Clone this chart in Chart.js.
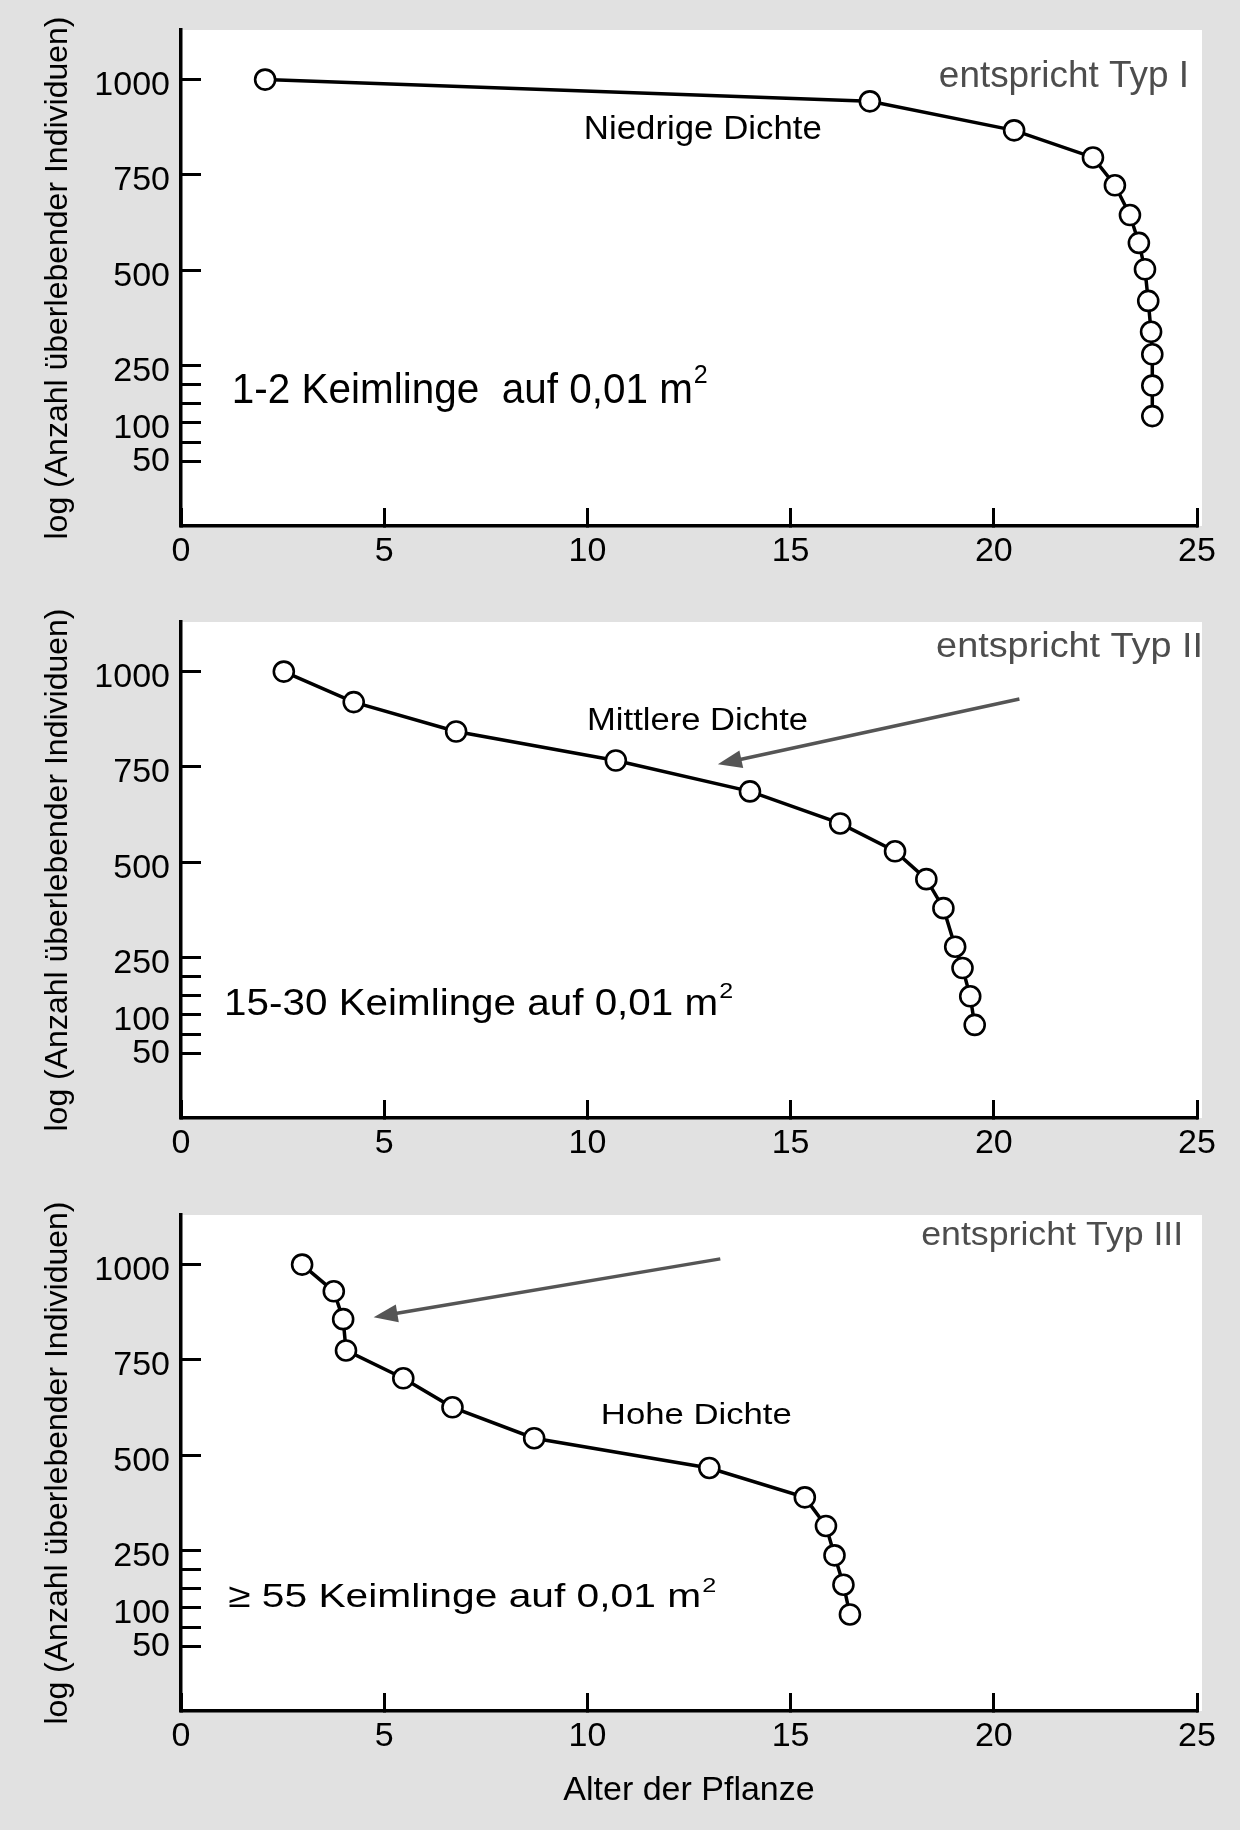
<!DOCTYPE html>
<html>
<head>
<meta charset="utf-8">
<script src="https://cdn.jsdelivr.net/npm/chart.js@4.4.1/dist/chart.umd.min.js"></script>
<style>
  html, body { margin: 0; padding: 0; background: #e1e1e1; }
  #wrap { position: relative; width: 1240px; height: 1830px; overflow: hidden; }
  canvas { position: absolute; left: 0; }
</style>
</head>
<body>
<div id="wrap">
  <canvas id="c1" width="1240" height="592" style="top:0px;width:1240px;height:592px"></canvas>
  <canvas id="c2" width="1240" height="592" style="top:592px;width:1240px;height:592px"></canvas>
  <canvas id="c3" width="1240" height="645" style="top:1185px;width:1240px;height:645px"></canvas>
</div>
<script>
// Alter der Pflanze (x) und Anzahl ueberlebender Individuen (y)
const ageI    = [2.07, 16.95, 20.5, 22.44, 22.98, 23.35, 23.57, 23.72, 23.8, 23.87, 23.9, 23.9, 23.9];
const survI   = [1000, 943, 867, 796, 723, 645, 572, 503, 420, 339, 280, 198, 118];
const ageII   = [2.53, 4.25, 6.77, 10.7, 14.0, 16.22, 17.57, 18.34, 18.76, 19.05, 19.23, 19.42, 19.53];
const survII  = [1000, 920, 843, 767, 686, 602, 529, 456, 380, 279, 223, 149, 74];
const ageIII  = [2.98, 3.76, 3.99, 4.06, 5.47, 6.68, 8.69, 13.0, 15.35, 15.87, 16.08, 16.3, 16.46];
const survIII = [1000, 930, 857, 775, 702, 626, 545, 467, 390, 315, 238, 161, 83];

const xTicks = [0, 5, 10, 15, 20, 25];
// Teilstriche der Achse; "50" steht in der Vorlage knapp ueber dem untersten Strich
const yTicks = [0, 15, 50, 100, 150, 200, 250, 500, 750, 1000];
const yLabels = {1000: '1000', 750: '750', 500: '500', 250: '250', 100: '100', 15: '50'};
const yHiddenTicks = [15];

const FONT = "'Liberation Sans', Arial, Helvetica, sans-serif";
const GRAY = '#4d4d4d';

// weisse Zeichenflaeche, Pfeile und Beschriftungen
const annotate = {
  id: 'annotate',
  beforeDraw(chart) {
    const {ctx, chartArea: a} = chart;
    ctx.save();
    ctx.fillStyle = '#fff';
    ctx.fillRect(a.left, a.top, a.right - a.left + 5, a.bottom - a.top);
    ctx.restore();
  },
  afterDatasetsDraw(chart, args, opts) {
    const {ctx} = chart;
    const sx = chart.scales.x, sy = chart.scales.y;
    ctx.save();
    (opts.arrows || []).forEach(ar => {
      const x1 = sx.getPixelForValue(ar.from[0]), y1 = sy.getPixelForValue(ar.from[1]);
      const x2 = sx.getPixelForValue(ar.to[0]), y2 = sy.getPixelForValue(ar.to[1]);
      const ang = Math.atan2(y2 - y1, x2 - x1);
      const head = 24, half = 9;
      ctx.strokeStyle = '#555';
      ctx.fillStyle = '#555';
      ctx.lineWidth = 3.5;
      ctx.beginPath();
      ctx.moveTo(x1, y1);
      ctx.lineTo(x2 - Math.cos(ang) * head * 0.8, y2 - Math.sin(ang) * head * 0.8);
      ctx.stroke();
      ctx.beginPath();
      ctx.moveTo(x2, y2);
      ctx.lineTo(x2 - Math.cos(ang) * head - Math.sin(ang) * half, y2 - Math.sin(ang) * head + Math.cos(ang) * half);
      ctx.lineTo(x2 - Math.cos(ang) * head + Math.sin(ang) * half, y2 - Math.sin(ang) * head - Math.cos(ang) * half);
      ctx.closePath();
      ctx.fill();
    });
    (opts.labels || []).forEach(t => {
      const px = sx.getPixelForValue(t.x), py = sy.getPixelForValue(t.y);
      const supSize = t.size * 0.62;
      ctx.font = t.size + 'px ' + FONT;
      let w = ctx.measureText(t.text).width;
      let wSup = 0;
      if (t.sup) {
        ctx.font = supSize + 'px ' + FONT;
        wSup = ctx.measureText(t.sup).width;
      }
      const k = t.width / (w + wSup);
      let left = px;
      if (t.align === 'right') left = px - t.width;
      if (t.align === 'center') left = px - t.width / 2;
      ctx.save();
      ctx.translate(left, py);
      ctx.scale(k, 1);
      ctx.fillStyle = t.color || '#000';
      ctx.textAlign = 'left';
      ctx.textBaseline = 'middle';
      ctx.font = t.size + 'px ' + FONT;
      ctx.fillText(t.text, 0, 0);
      if (t.sup) {
        ctx.font = supSize + 'px ' + FONT;
        ctx.fillText(t.sup, w + 1, -t.size * 0.36);
      }
      ctx.restore();
    });
    ctx.restore();
  }
};

function makeChart(id, ages, surv, anno, withTitle) {
  const ctx = document.getElementById(id).getContext('2d');
  const pts = ages.map((a, i) => ({x: a, y: surv[i]}));
  return new Chart(ctx, {
    type: 'scatter',
    data: {
      datasets: [{
        data: pts,
        showLine: true,
        borderColor: '#000',
        borderWidth: 3.5,
        pointRadius: 10,
        pointBorderWidth: 2.6,
        pointBackgroundColor: '#fff',
        pointBorderColor: '#000',
        clip: false
      }]
    },
    options: {
      responsive: false,
      animation: false,
      devicePixelRatio: 1,
      layout: {padding: {left: 0, top: 30, right: 43, bottom: 0}},
      plugins: {
        legend: {display: false},
        tooltip: {enabled: false},
        annotate: anno
      },
      scales: {
        x: {
          type: 'linear',
          min: 0, max: 25,
          afterBuildTicks: s => { s.ticks = xTicks.map(v => ({value: v})); },
          afterFit: s => { s.height = withTitle ? 119 : 66; s.paddingLeft = 0; s.paddingRight = 0; },
          border: {display: true, color: '#000', width: 3.5},
          grid: {drawOnChartArea: false, drawTicks: true, tickLength: -18, tickWidth: 3, tickColor: '#000'},
          ticks: {color: '#000', font: {family: FONT, size: 34}, padding: 23, maxRotation: 0},
          title: {
            display: withTitle, text: 'Alter der Pflanze', color: '#000',
            font: {family: FONT, size: 34}, padding: {top: 0, bottom: 19}
          }
        },
        y: {
          type: 'linear',
          min: -170, max: 1130,
          afterBuildTicks: s => { s.ticks = yTicks.map(v => ({value: v})); },
          afterFit: s => { s.width = 181; s.paddingTop = 0; s.paddingBottom = 0; },
          border: {display: true, color: '#000', width: 3.5},
          grid: {
            drawOnChartArea: false, drawTicks: true, tickLength: -20, tickWidth: 3,
            tickColor: c => (c.tick && yHiddenTicks.includes(c.tick.value)) ? 'rgba(0,0,0,0)' : '#000'
          },
          ticks: {
            color: '#000', font: {family: FONT, size: 34}, padding: 31, labelOffset: 6,
            autoSkip: false,
            callback: v => yLabels[v] || ''
          },
          title: {
            display: true, text: 'log (Anzahl überlebender Individuen)', color: '#000',
            font: {family: FONT, size: 32}, padding: {top: 39, bottom: 0}
          }
        }
      }
    },
    plugins: [annotate]
  });
}

makeChart('c1', ageI, survI, {
  labels: [
    {text: 'entspricht Typ I', x: 24.8, y: 1006, size: 36, width: 250, align: 'right', color: GRAY},
    {text: 'Niedrige Dichte', x: 12.84, y: 868, size: 33, width: 238, align: 'center'},
    {text: '1-2 Keimlinge  auf 0,01 m', sup: '2', x: 1.25, y: 183, size: 42, width: 475, align: 'left'}
  ]
}, false);

makeChart('c2', ageII, survII, {
  labels: [
    {text: 'entspricht Typ II', x: 25.15, y: 1064, size: 35, width: 267, align: 'right', color: GRAY},
    {text: 'Mittlere Dichte', x: 12.71, y: 870, size: 31, width: 221, align: 'center'},
    {text: '15-30 Keimlinge auf 0,01 m', sup: '2', x: 1.06, y: 126, size: 37, width: 508, align: 'left'}
  ],
  arrows: [{from: [20.63, 928], to: [13.21, 757]}]
}, false);

makeChart('c3', ageIII, survIII, {
  labels: [
    {text: 'entspricht Typ III', x: 24.66, y: 1077, size: 34, width: 262, align: 'right', color: GRAY},
    {text: 'Hohe Dichte', x: 12.68, y: 603, size: 30, width: 191, align: 'center'},
    {text: '≥ 55 Keimlinge auf 0,01 m', sup: '2', x: 1.16, y: 126, size: 34, width: 487, align: 'left'}
  ],
  arrows: [{from: [13.27, 1015], to: [4.74, 862]}]
}, true);
</script>
</body>
</html>
